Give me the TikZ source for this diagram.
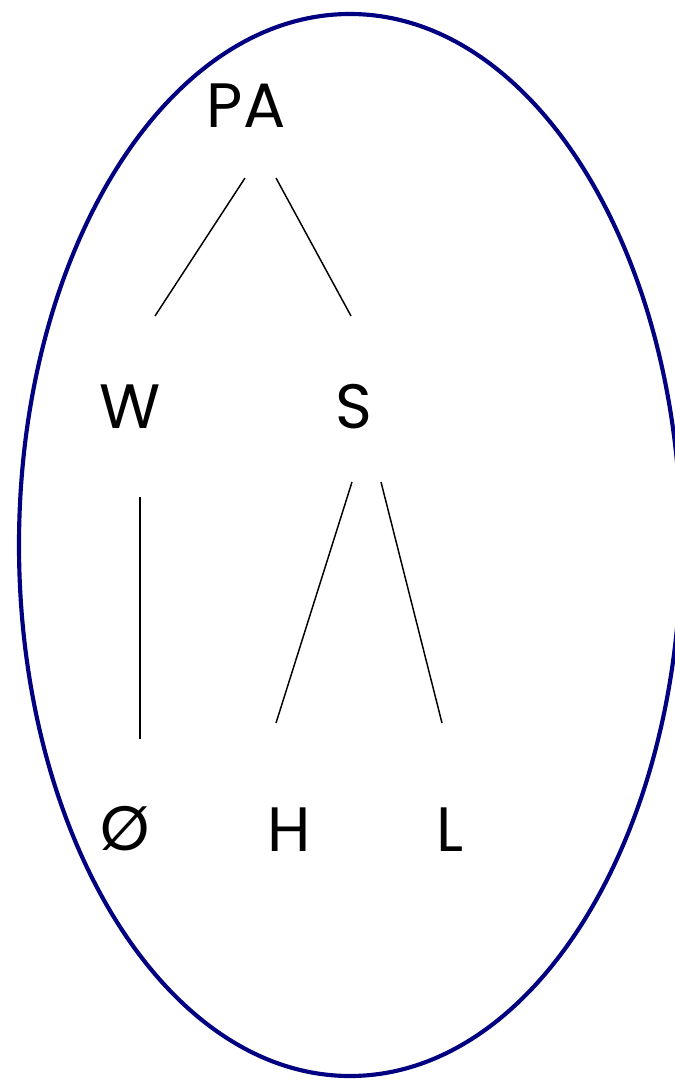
\documentclass[tikz,border=0pt]{standalone}
\usepackage{fontspec}
\setmainfont{Poppins}
\definecolor{ringblue}{RGB}{0,0,128}
\begin{document}
\begin{tikzpicture}[x=0.75pt,y=-0.75pt,
  lbl/.style={font=\fontsize{47}{50}\selectfont, inner sep=0pt, text=black},
  edge/.style={draw=black, line width=1.1pt},
  ring/.style={draw=ringblue, line width=3.1pt}]
\useasboundingbox (0,0) rectangle (674,1080);
\draw[ring] (350,545) ellipse [x radius=331, y radius=531];
\node[font=\fontsize{30}{32}\selectfont, inner sep=0pt, anchor=east] (cut) at (3,55) {s};
\node[lbl] (PA) at (246,106) {PA};
\node[lbl] (W) at (130,407) {W};
\node[lbl] (S) at (354,407) {S};
\node[lbl] (E) at (125,829) {Ø};
\node[lbl] (H) at (289,830) {H};
\node[lbl] (L) at (450,830) {L};
\draw[edge] ([shift={(-1,72)}]PA.center) -- ([shift={(25,-91)}]W.center);
\draw[edge] ([shift={(30,72)}]PA.center) -- ([shift={(-3,-91)}]S.center);
\draw[edge] ([shift={(10,90)}]W.center) -- ([shift={(15,-90)}]E.center);
\draw[edge] ([shift={(-2,75)}]S.center) -- ([shift={(-13,-107)}]H.center);
\draw[edge] ([shift={(27,75)}]S.center) -- ([shift={(-8,-107)}]L.center);
\end{tikzpicture}
\end{document}
